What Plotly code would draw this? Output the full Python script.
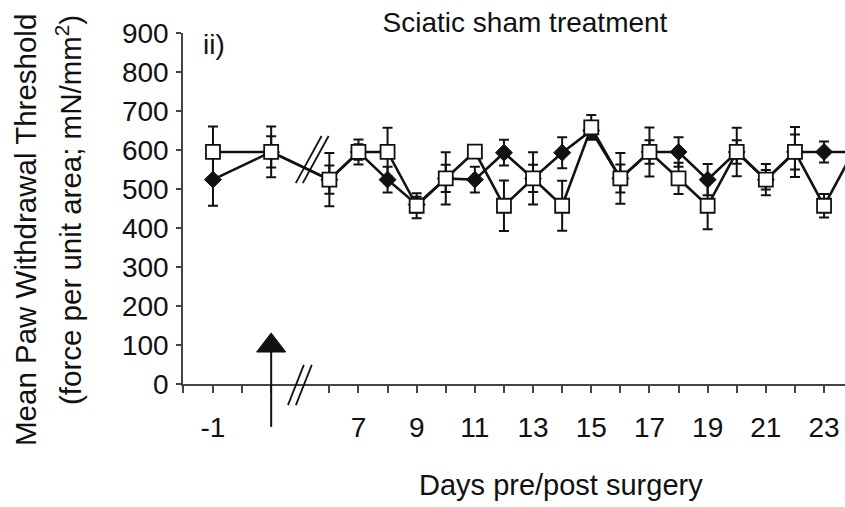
import plotly.graph_objects as go

# Test days: one pre-surgery baseline, surgery day, then post-operative days 6-24
days = [-1, 0, 6, 7, 8, 9, 10, 11, 12, 13, 14, 15, 16, 17, 18, 19, 20, 21, 22, 23, 24]

# Filled diamonds: mean threshold and error (mN/mm^2)
filled_mean = [524, 595, 524, 595, 524, 460, 527, 524, 593, 527, 593, 650, 527, 595, 595, 524, 595, 524, 595, 595, 595]
filled_err = [67, 40, 36, 20, 33, 20, 35, 33, 33, 35, 40, 20, 36, 30, 38, 40, 30, 25, 45, 27, 20]

# Open squares: mean threshold and error (mN/mm^2)
open_mean = [595, 595, 524, 595, 595, 457, 527, 596, 457, 527, 457, 658, 527, 595, 527, 457, 595, 524, 595, 457, 595]
open_err = [65, 65, 68, 32, 62, 32, 67, 15, 65, 67, 64, 32, 65, 63, 40, 60, 62, 40, 64, 30, 60]

# Labelled days on the x axis
label_days = [-1, 7, 9, 11, 13, 15, 17, 19, 21, 23]

FONT = "Liberation Sans, Arial, sans-serif"
INK = "#111111"
AXIS = "#444444"


def slot(day):
    """Axis position: pre-surgery days sit two slots apart, post-op days one slot apart after the break."""
    return 2 * (day + 1) if day <= 0 else day - 2


xs = [slot(d) for d in days]
X0, X1 = -1.03, 21.72
Y0, Y1 = 0, 900


def px(s):
    return (s - X0) / (X1 - X0)


def py(v):
    return (v - Y0) / (Y1 - Y0)


fig = go.Figure()

fig.add_trace(go.Scatter(
    x=xs, y=filled_mean, mode="lines+markers",
    line=dict(color=INK, width=2.6),
    marker=dict(symbol="diamond", size=13, color=INK, line=dict(color=INK, width=1)),
    error_y=dict(type="data", array=filled_err, color=INK, thickness=2, width=5),
    showlegend=False,
))

fig.add_trace(go.Scatter(
    x=xs, y=open_mean, mode="lines+markers",
    line=dict(color=INK, width=2.6),
    marker=dict(symbol="square", size=14, color="white", line=dict(color=INK, width=1.8)),
    error_y=dict(type="data", array=open_err, color=INK, thickness=2, width=5),
    showlegend=False,
))

# Tick marks at every slot except the one hidden by the axis break
tick_slots = [X0, 0, 1, 2] + list(range(4, 23))
label_slots = {slot(d): str(d) for d in label_days}
tick_text = [label_slots.get(s, "") for s in tick_slots]

fig.update_xaxes(
    range=[X0, X1], showline=True, linecolor=AXIS, linewidth=1.5,
    ticks="outside", ticklen=7, tickwidth=1.5, tickcolor=AXIS,
    tickvals=tick_slots, ticktext=tick_text, ticklabelstandoff=11,
    tickfont=dict(family=FONT, size=28, color=INK),
    showgrid=False, zeroline=False,
)
fig.update_yaxes(
    range=[Y0, Y1], showline=True, linecolor=AXIS, linewidth=1.5,
    ticks="outside", ticklen=5, tickwidth=1.5, tickcolor=AXIS,
    tickvals=list(range(0, 901, 100)), ticklabelstandoff=2,
    tickfont=dict(family=FONT, size=28, color=INK),
    showgrid=False, zeroline=False,
)

shapes = []
# Break marks on the data lines and on the x axis
bx = px(3.3)
for off in (0.0, 0.0106):
    shapes.append(dict(type="line", xref="paper", yref="paper",
                       x0=bx - 0.02 + off, y0=py(515), x1=bx + 0.019 + off, y1=py(636),
                       line=dict(color=INK, width=1.8)))
ax = px(2.85)
for off in (0.0, 0.012):
    shapes.append(dict(type="line", xref="paper", yref="paper",
                       x0=ax - 0.012 + off, y0=py(-54), x1=ax + 0.012 + off, y1=py(49),
                       line=dict(color=INK, width=1.8)))
# Surgery arrow
sx = px(slot(0))
shapes.append(dict(type="line", xref="paper", yref="paper",
                   x0=sx, y0=py(-110), x1=sx, y1=py(85),
                   line=dict(color=INK, width=2)))
hw = 0.5 * (px(1) - px(0))
shapes.append(dict(type="path", xref="paper", yref="paper",
                   path=f"M {sx - hw} {py(82)} L {sx + hw} {py(82)} L {sx} {py(131)} Z",
                   fillcolor=INK, line=dict(color=INK, width=1)))

annotations = [
    dict(text="ii)", x=0.047, y=0.966, xref="paper", yref="paper", showarrow=False,
         xanchor="center", yanchor="middle",
         font=dict(family=FONT, size=28, color=INK)),
    dict(text="Days pre/post surgery", x=0.571, y=-0.288, xref="paper", yref="paper",
         xanchor="center", yanchor="middle",
         showarrow=False, font=dict(family=FONT, size=29, color=INK)),
    dict(text="Mean Paw Withdrawal Threshold", x=-0.2387, y=0.4387, xref="paper", yref="paper",
         xanchor="center", yanchor="middle",
         textangle=-90, showarrow=False, font=dict(family=FONT, size=29.5, color=INK)),
    dict(text="(force per unit area; mN/mm<sup>2</sup>)", x=-0.1737, y=0.4957, xref="paper",
         yref="paper", xanchor="center", yanchor="middle",
         textangle=-90, showarrow=False, font=dict(family=FONT, size=29.5, color=INK)),
]

fig.update_layout(
    width=845, height=507,
    margin=dict(l=183, r=0, t=33, b=123),
    paper_bgcolor="white", plot_bgcolor="white",
    title=dict(text="Sciatic sham treatment", x=525 / 845, y=1 - 22 / 507,
               xref="container", yref="container", xanchor="center", yanchor="middle",
               font=dict(family=FONT, size=28, color=INK)),
    shapes=shapes, annotations=annotations,
)

fig.write_html("out.html")
